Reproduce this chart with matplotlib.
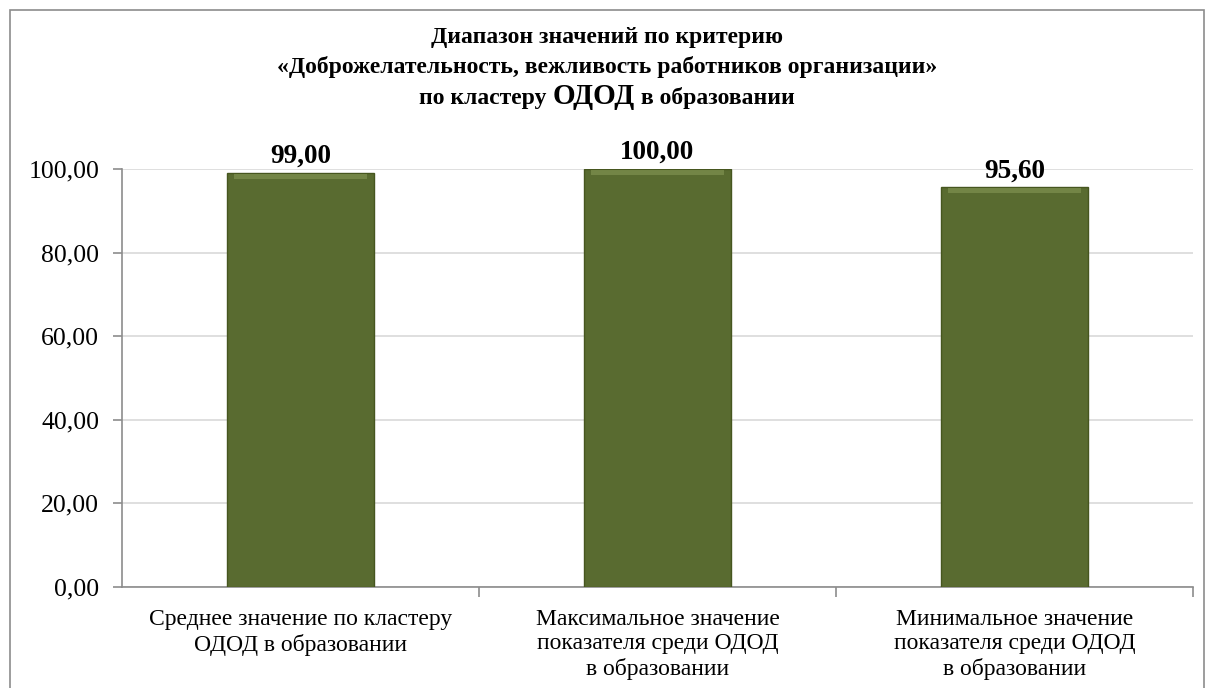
import matplotlib.pyplot as plt
from matplotlib.patches import Rectangle

# данные
categories = ['Среднее значение по кластеру\nОДОД в образовании',
              'Максимальное значение\nпоказателя среди ОДОД\nв образовании',
              'Минимальное значение\nпоказателя среди ОДОД\nв образовании']
values = [99.00, 100.00, 95.60]
yticks = [0, 20, 40, 60, 80, 100]

plt.rcParams['font.family'] = ['Liberation Serif', 'DejaVu Serif']

fig = plt.figure(figsize=(12.12, 6.88), dpi=100)
W, H = 1212, 688
ax = fig.add_axes([122 / W, 1 - 587 / H, (1193 - 122) / W, (587 - 169) / H])

# рамка вокруг диаграммы
fig.patches.append(Rectangle((10 / W, -0.05), (1204 - 10) / W, 1 - 10 / H + 0.05,
                             transform=fig.transFigure, fill=False,
                             edgecolor='#8c8c8c', linewidth=1.2))

x = list(range(len(values)))
bars = ax.bar(x, values, width=0.41, color='#596b30', edgecolor='#46561f',
              linewidth=1.0, zorder=3)
# светлая фаска сверху
ax.bar(x, [1.2] * len(values), bottom=[v - 1.4 for v in values], width=0.37,
       color='#7a8c4c', linewidth=0, zorder=4, alpha=0.8)

for xi, v in zip(x, values):
    ax.text(xi, v + 1.0, f'{v:.2f}'.replace('.', ','), ha='center', va='bottom',
            fontsize=19.5, fontweight='bold', clip_on=False)

ax.set_xlim(-0.5, len(values) - 0.5)
ax.set_ylim(0, 100)
ax.set_yticks(yticks)
ax.set_yticklabels([f'{t:.2f}'.replace('.', ',') for t in yticks], fontsize=18.5)
ax.yaxis.grid(True, color='#d9d9d9', linewidth=1.2, zorder=0)
ax.set_axisbelow(True)

ax.set_xticks([i + 0.5 for i in x])
ax.set_xticklabels([])
ax.set_xticks(x, minor=True)
ax.set_xticklabels(categories, minor=True, fontsize=17, linespacing=1.2)
ax.tick_params(axis='x', which='minor', length=0, pad=16)
ax.tick_params(axis='x', which='major', length=7, color='#8c8c8c', width=1.2, direction='out')
ax.tick_params(axis='y', length=6.5, color='#8c8c8c', width=1.2, pad=10)

for s in ['top', 'right']:
    ax.spines[s].set_visible(False)
for s in ['left', 'bottom']:
    ax.spines[s].set_color('#8c8c8c')
    ax.spines[s].set_linewidth(1.2)

# заголовок
cx = 0.5 * (10 + 1204) / W
fig.text(cx, 1 - 37 / H, 'Диапазон значений по критерию', ha='center', va='center',
         fontsize=17, fontweight='bold')
fig.text(cx, 1 - 67 / H, '«Доброжелательность, вежливость работников организации»',
         ha='center', va='center', fontsize=17, fontweight='bold')

# третья строка с крупным «ОДОД»
parts = [('по кластеру ', 17), ('ОДОД', 21), (' в образовании', 17)]
fig.canvas.draw()
r = fig.canvas.get_renderer()
texts = []
widths = []
for s, fs in parts:
    t = fig.text(0, 1 - 104 / H, s, ha='left', va='baseline', fontsize=fs, fontweight='bold')
    texts.append(t)
    widths.append(t.get_window_extent(r).width)
total = sum(widths)
x0 = cx * W - total / 2
for t, w in zip(texts, widths):
    t.set_x(x0 / W)
    x0 += w

fig.savefig('out.png', dpi=100)
